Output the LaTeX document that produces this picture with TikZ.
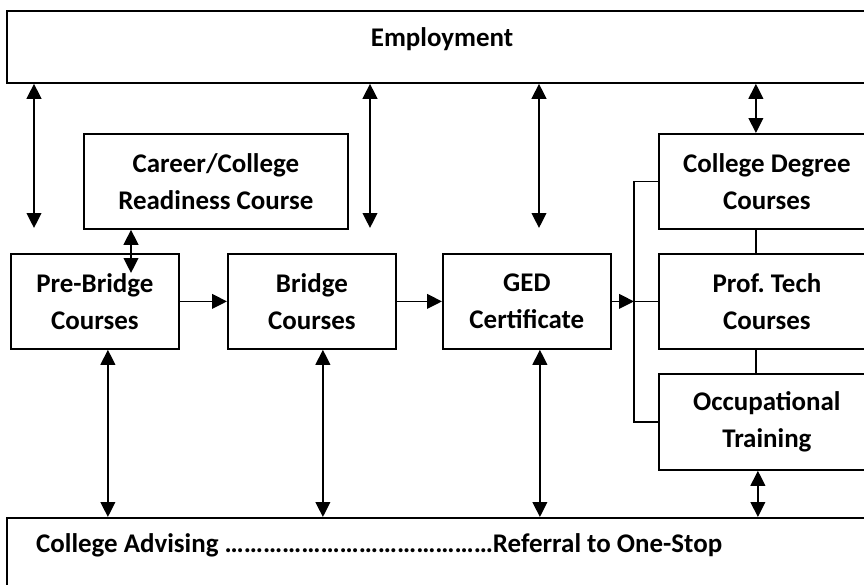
\documentclass[tikz,border=0pt]{standalone}
\usepackage{fontspec}
\setmainfont{Carlito}
\usetikzlibrary{arrows.meta,calc}
\tikzset{
box/.style = {draw, line width = 1.5pt, anchor = north west, align = center, inner sep = 0pt, font = \bfseries\fontsize{23}{31.5}\selectfont},
label text/.style = {font = \bfseries\fontsize{23}{31.5}\selectfont},
link/.style = {line width = 1.4pt},
arr/.style = {link, -{Triangle[length = 0.45cm, width = 0.44cm]}},
dbl/.style = {link, {Triangle[length = 0.45cm, width = 0.44cm]}-{Triangle[length = 0.45cm, width = 0.44cm]}}
}

\begin{document}
\begin{tikzpicture}[x=0.03cm,y=-0.03cm]
%
\useasboundingbox (0,0) rectangle (864,584);
\clip (0,0) rectangle (864,584);
%
\def\bw{5.04cm}
\def\bh{2.85cm}
%
% top and bottom bars
\node[box, minimum width = 26.22cm, minimum height = 2.16cm] (employ) at (6,10) {};
\node[label text] (employtxt) at (442,39) {Employment};
\node[box, minimum width = 26.22cm, minimum height = 2.5cm] (advise) at (6,517) {};
\node[label text, anchor = base west] (advisetxt) at (32,552) {College Advising \foreach \k in {1,...,14}{…}Referral to One-Stop};
%
% course boxes
\node[box, minimum width = 7.92cm, minimum height = \bh] (ready) at (83,133) {Career/College\\Readiness Course};
\node[box, minimum width = \bw, minimum height = \bh] (prebr) at (10,253) {Pre-Bridge\\Courses};
\node[box, minimum width = \bw, minimum height = \bh] (bridge) at (227,253) {Bridge\\Courses};
\node[box, minimum width = \bw, minimum height = \bh] (ged) at (442,253) {GED\\Certificate};
\node[box, minimum width = 6.48cm, minimum height = \bh] (cdeg) at (658,133) {College Degree\\Courses};
\node[box, minimum width = 6.48cm, minimum height = \bh] (ptech) at (658,253) {Prof.\ Tech\\Courses};
\node[box, minimum width = 6.48cm, minimum height = 2.88cm] (occup) at (658,373) {Occupational\\Training};
%
% employment links
\coordinate (e1) at (34,228);
\coordinate (e2) at (370,228);
\coordinate (e3) at (539,228);
\coordinate (e4) at ($(cdeg.north)+(-11,0)$);
\foreach \c in {e1,e2,e3,e4} {\draw[dbl] (employ.south -| \c) -- (\c);}
%
\coordinate (rp) at (131,273);
\draw[dbl] (ready.south -| rp) -- (rp);
%
% main path
\draw[arr] (prebr.east) -- (bridge.west);
\draw[arr] (bridge.east) -- (ged.west);
\coordinate (brk) at (634,0);
\draw[arr] (ged.east) -- (ged.east -| brk);
\draw[link] (cdeg.west) -- (cdeg.west -| brk) -- (occup.west -| brk) -- (occup.west);
\draw[link] (ptech.west) -- (ptech.west -| brk);
%
\coordinate (c1) at ($(cdeg.south)+(-11,0)$);
\coordinate (c2) at ($(ptech.south)+(-11,0)$);
\draw[link] (c1) -- (c1 |- ptech.north);
\draw[link] (c2) -- (c2 |- occup.north);
%
% advising links
\foreach \n/\dx [count=\i] in {prebr/13,bridge/11,ged/13,occup/-9} {
\coordinate (a\i) at ($(\n.south)+(\dx,0)$);
\draw[dbl] (a\i) -- (a\i |- advise.north);
}
%
\end{tikzpicture}
\end{document}
